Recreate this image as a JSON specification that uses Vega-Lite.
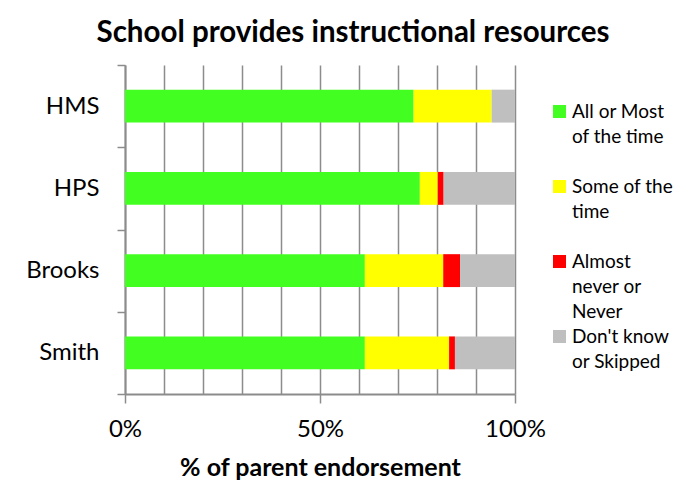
{
  "$schema": "https://vega.github.io/schema/vega-lite/v6.json",
  "width": 390,
  "height": 329,
  "autosize": {"type": "none"},
  "padding": {"left": 125, "top": 65, "right": 167, "bottom": 91},
  "background": "white",
  "config": {
    "font": "Lato",
    "view": {"stroke": null},
    "style": {"guide-label": {"lineHeight": 25}}
  },
  "title": {
    "text": "School provides instructional resources",
    "font": "Lato",
    "fontSize": 29.5,
    "fontWeight": "bold",
    "color": "black",
    "anchor": "middle",
    "dx": 33,
    "offset": 5
  },
  "data": {
    "values": [
      {"school": "HMS", "response": "All or Most of the time", "ord": 1, "pct": 74.0},
      {"school": "HMS", "response": "Some of the time", "ord": 2, "pct": 20.0},
      {"school": "HMS", "response": "Don't know or Skipped", "ord": 4, "pct": 6.0},
      {"school": "HPS", "response": "All or Most of the time", "ord": 1, "pct": 75.6},
      {"school": "HPS", "response": "Some of the time", "ord": 2, "pct": 4.6},
      {"school": "HPS", "response": "Almost never or Never", "ord": 3, "pct": 1.5},
      {"school": "HPS", "response": "Don't know or Skipped", "ord": 4, "pct": 18.3},
      {"school": "Brooks", "response": "All or Most of the time", "ord": 1, "pct": 61.5},
      {"school": "Brooks", "response": "Some of the time", "ord": 2, "pct": 20.1},
      {"school": "Brooks", "response": "Almost never or Never", "ord": 3, "pct": 4.3},
      {"school": "Brooks", "response": "Don't know or Skipped", "ord": 4, "pct": 14.1},
      {"school": "Smith", "response": "All or Most of the time", "ord": 1, "pct": 61.5},
      {"school": "Smith", "response": "Some of the time", "ord": 2, "pct": 21.6},
      {"school": "Smith", "response": "Almost never or Never", "ord": 3, "pct": 1.5},
      {"school": "Smith", "response": "Don't know or Skipped", "ord": 4, "pct": 15.4}
    ]
  },
  "mark": {"type": "bar", "height": {"band": 0.4}},
  "encoding": {
    "y": {
      "field": "school",
      "type": "nominal",
      "sort": ["HMS", "HPS", "Brooks", "Smith"],
      "scale": {"paddingInner": 0, "paddingOuter": 0},
      "axis": {
        "title": null,
        "tickBand": "extent",
        "tickSize": 8,
        "tickColor": "#8c8c8c",
        "tickWidth": 1.5,
        "domainColor": "#8c8c8c",
        "domainWidth": 2,
        "labelFontSize": 24,
        "labelColor": "black",
        "labelPadding": 18,
        "grid": false
      }
    },
    "x": {
      "field": "pct",
      "type": "quantitative",
      "stack": "zero",
      "scale": {"domain": [0, 100], "nice": false},
      "axis": {
        "values": [0, 10, 20, 30, 40, 50, 60, 70, 80, 90, 100],
        "labelExpr": "datum.value % 50 == 0 ? datum.value + '%' : ''",
        "title": "% of parent endorsement",
        "titleFontSize": 25,
        "titleFontWeight": "bold",
        "titleColor": "black",
        "titlePadding": 14,
        "labelFontSize": 24,
        "labelColor": "black",
        "labelPadding": 14,
        "labelFlush": false,
        "tickSize": 9,
        "tickWidth": 1.5,
        "tickColor": "#8c8c8c",
        "tickOpacity": {"condition": {"test": "datum.value % 50 == 0", "value": 1}, "value": 0},
        "grid": true,
        "gridColor": "#8c8c8c",
        "gridWidth": 1.5,
        "domainColor": "#8c8c8c",
        "domainWidth": 2
      }
    },
    "color": {
      "field": "response",
      "type": "nominal",
      "scale": {
        "domain": ["All or Most of the time", "Some of the time", "Almost never or Never", "Don't know or Skipped"],
        "range": ["#42ff21", "#ffff00", "#ff0000", "#bfbfbf"]
      },
      "legend": {
        "title": null,
        "orient": "none",
        "legendX": 425,
        "legendY": 37,
        "symbolType": "square",
        "symbolSize": 169,
        "symbolStrokeWidth": 0,
        "labelFontSize": 19,
        "labelColor": "black",
        "labelOffset": 3,
        "labelBaseline": "middle",
        "labelLimit": 200,
        "gridAlign": "all",
        "rowPadding": 5,
        "labelExpr": "datum.label == 'All or Most of the time' ? ['All or Most', 'of the time'] : datum.label == 'Some of the time' ? ['Some of the', 'time'] : datum.label == 'Almost never or Never' ? ['Almost', 'never or', 'Never'] : ['Don\\'t know', 'or Skipped']"
      }
    },
    "order": {"field": "ord", "type": "quantitative"}
  }
}
